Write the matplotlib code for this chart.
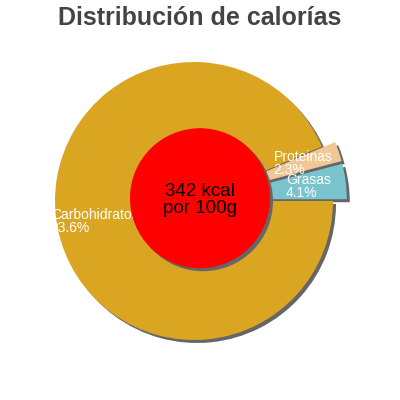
import matplotlib
matplotlib.use("Agg")
import matplotlib.pyplot as plt
import numpy as np

# data
labels = ["Grasas", "Proteinas", "Carbohidratos"]
values = [4.1, 2.3, 93.6]
colors = ["#7ac5cd", "#f0c896", "#daa520"]
explode = [0.1, 0.1, 0.0]
center_text = "342 kcal\npor 100g"
title = "Distribución de calorías"

plt.rcParams['font.family'] = ['Liberation Sans', 'DejaVu Sans']

fig = plt.figure(figsize=(4, 4), dpi=100)
ax = fig.add_axes([0, 0, 1, 1])
R = 139.0
cx, cy = 194.0, 201.0

shadow = (3 / R, -3 / R)

# shadow of the pie
ax.pie(values, explode=explode, startangle=0, counterclock=True,
       colors=["#666666"] * len(values), center=shadow, radius=1.0,
       wedgeprops=dict(linewidth=0), frame=True)

texts_lbl = [f"{l}\n{v}%" for l, v in zip(labels, values)]
wedges, texts = ax.pie(values, explode=explode, startangle=0, counterclock=True,
                       colors=colors, radius=1.0, labels=texts_lbl,
                       labeldistance=0.73,
                       textprops=dict(color="white", fontsize=10),
                       wedgeprops=dict(linewidth=0), frame=True)
for t in texts:
    t.set_ha("center")
    t.set_multialignment("left")
    t.set_linespacing(0.9)

ax.set_xlim(-cx / R, (400 - cx) / R)
ax.set_ylim(-(400 - cy) / R, cy / R)
ax.set_aspect("equal")
ax.axis("off")

rc = (0.043, 0.02)
ax.add_patch(plt.Circle((rc[0] + shadow[0], rc[1] + shadow[1]), 70 / R,
                        color="#666666", lw=0, zorder=5))
ax.add_patch(plt.Circle(rc, 70 / R, color="#ff0000", lw=0, zorder=6))
ax.text(rc[0], rc[1] - 0.01, center_text, ha="center", va="center",
        fontsize=13.5, color="black", zorder=7, linespacing=1.0)

fig.text(0.5, 0.955, title, ha="center", va="center", fontsize=18,
         fontweight="bold", color="#444444")

fig.savefig("out.png", dpi=100)
